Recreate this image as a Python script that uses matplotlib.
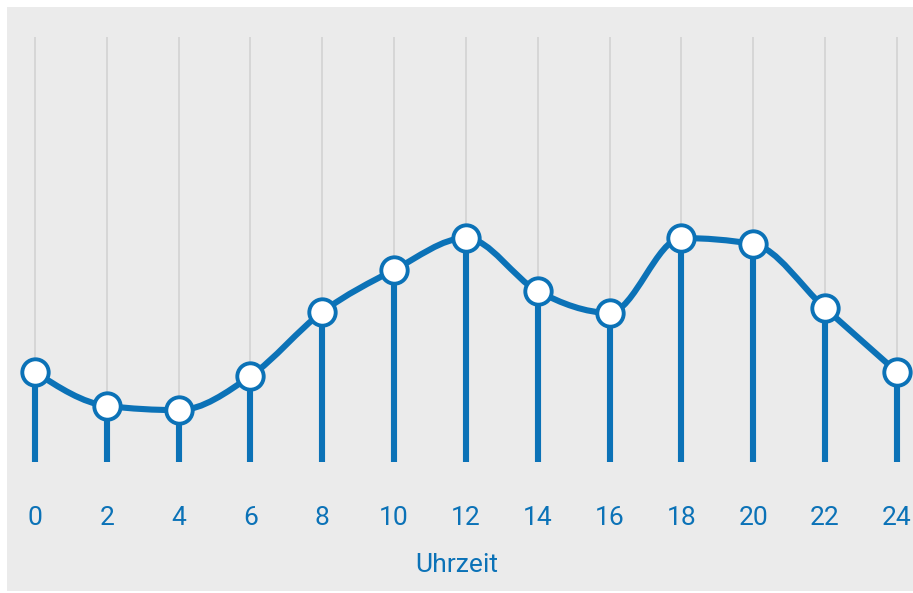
import numpy as np
import matplotlib.pyplot as plt
from matplotlib.path import Path
from matplotlib.patches import PathPatch, Rectangle

# data (value scale 0-100, top of gridlines = 100)
hours = [0, 2, 4, 6, 8, 10, 12, 14, 16, 18, 20, 22, 24]
values = [21.2, 13.2, 12.2, 20.2, 35.3, 45.2, 52.7, 40.2, 35.1, 52.7, 51.3, 36.2, 21.2]
tick_labels = [str(h) for h in hours]

BLUE = "#0b72b7"
BG = "#ebebeb"
GRID = "#d2d2d2"

plt.rcParams["font.family"] = ["Roboto", "DejaVu Sans"]


def monotone_path(x, y):
    # monotone cubic (like d3.curveMonotoneX) drawn as bezier segments
    x = np.asarray(x, float); y = np.asarray(y, float)
    n = len(x)
    h = np.diff(x); s = np.diff(y) / h
    t = np.zeros(n)
    for i in range(1, n - 1):
        p = (s[i-1]*h[i] + s[i]*h[i-1]) / (h[i-1] + h[i])
        t[i] = (np.sign(s[i-1]) + np.sign(s[i])) * min(abs(s[i-1]), abs(s[i]), 0.5*abs(p))
    t[0] = (3*s[0] - t[1]) / 2
    t[-1] = (3*s[-1] - t[-2]) / 2
    verts = [(x[0], y[0])]; codes = [Path.MOVETO]
    for i in range(n - 1):
        d = h[i] / 3
        verts += [(x[i]+d, y[i]+d*t[i]), (x[i+1]-d, y[i+1]-d*t[i+1]), (x[i+1], y[i+1])]
        codes += [Path.CURVE4]*3
    return Path(verts, codes)


fig = plt.figure(figsize=(9.13, 5.93), dpi=100)
fig.patch.set_facecolor("white")
fig.patches.append(Rectangle((7/913, 2/593), 906/913, 584/593, transform=fig.transFigure,
                             facecolor=BG, edgecolor="none", zorder=-10))

ax = fig.add_axes([0, 131/593, 1, 425/593])
ax.set_facecolor("none")
ax.set_xlim(-0.975, 24.45)
ax.set_ylim(0, 100)
for sp in ax.spines.values():
    sp.set_visible(False)

ax.set_xticks(hours)
ax.set_xticklabels(tick_labels)
ax.set_yticks([])
ax.tick_params(axis="x", length=0, pad=31.5, labelsize=19, labelcolor=BLUE)
ax.set_xlabel("Uhrzeit", fontsize=19, color=BLUE, labelpad=17)
ax.grid(axis="x", color=GRID, lw=1.2)
ax.set_axisbelow(True)

ax.vlines(hours, 0, values, color=BLUE, lw=4.4, capstyle="round", zorder=2)
ax.add_patch(PathPatch(monotone_path(hours, values), facecolor="none",
                       edgecolor=BLUE, lw=4.4, zorder=3, clip_on=False))
ax.plot(hours, values, "o", ms=19, mfc="white", mec=BLUE, mew=2.8,
        zorder=4, clip_on=False)

fig.savefig("out.png", dpi=100, facecolor="white")
